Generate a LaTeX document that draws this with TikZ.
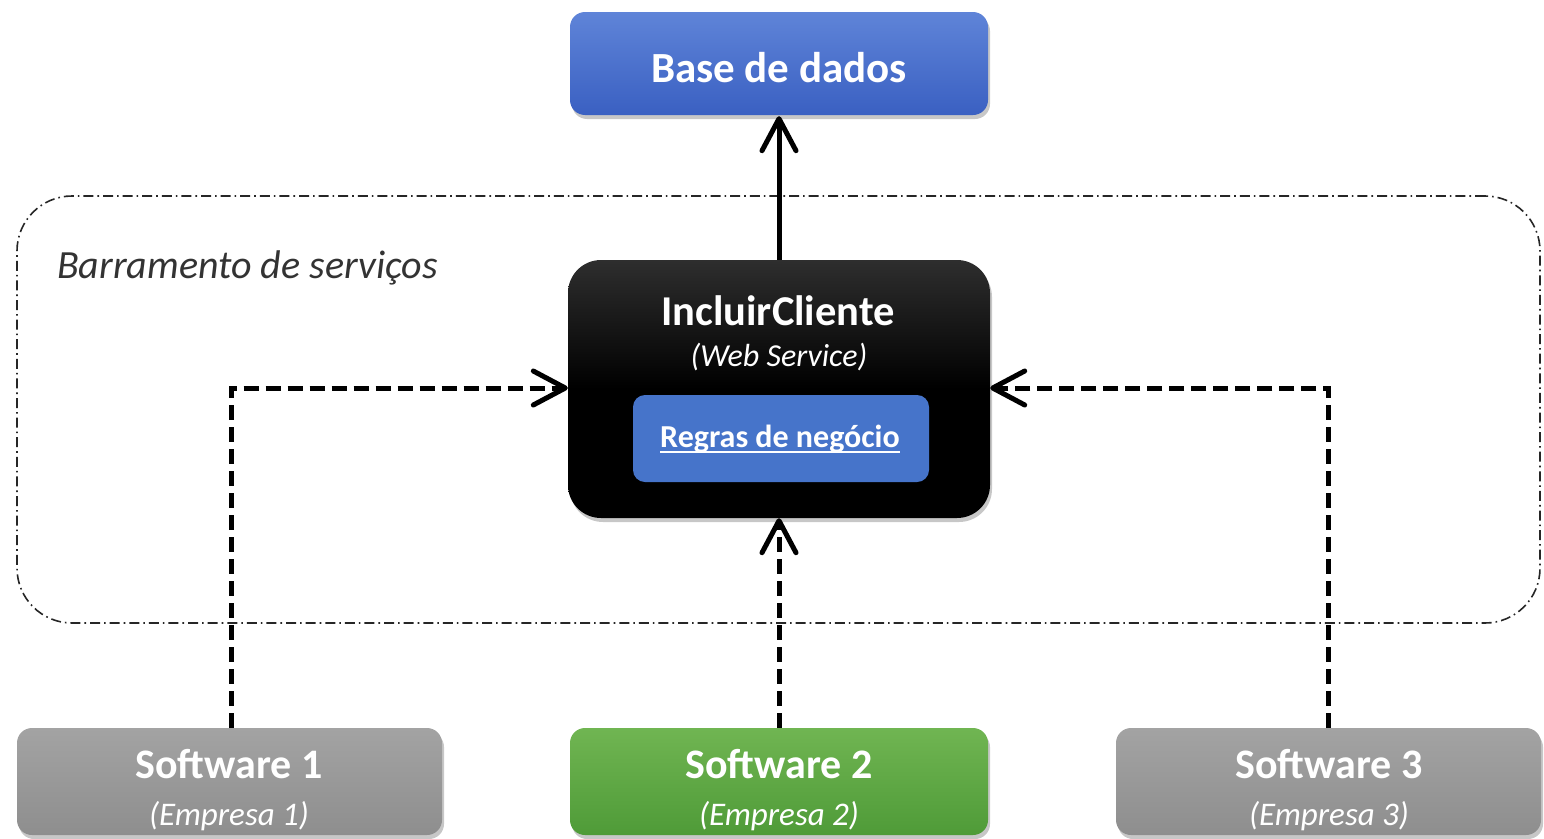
\documentclass[tikz,border=0pt]{standalone}
\usepackage{fontspec}
\setmainfont{Carlito}
\usetikzlibrary{arrows.meta,shadows}
\definecolor{dbtop}{HTML}{5F84D8}
\definecolor{dbbot}{HTML}{3A60C2}
\definecolor{regblue}{HTML}{4674CA}
\definecolor{grtop}{HTML}{A3A3A3}
\definecolor{grbot}{HTML}{8E8E8E}
\definecolor{gntop}{HTML}{70B552}
\definecolor{gnbot}{HTML}{4F9B38}
\definecolor{bustext}{HTML}{333333}
\tikzset{
  boxbase/.style={draw=none, inner sep=0pt, drop shadow={shadow xshift=2pt, shadow yshift=-4pt, opacity=0.22, fill=black}},
  dbbox/.style={boxbase, rounded corners=15pt, top color=dbtop, bottom color=dbbot, minimum width=418pt, minimum height=103pt},
  wsbox/.style={boxbase, rounded corners=33pt, top color=black!82, bottom color=black, middle color=black, minimum width=422pt, minimum height=258pt},
  regbox/.style={draw=none, rounded corners=12pt, fill=regblue, minimum width=296pt, minimum height=87pt},
  swgray/.style={boxbase, rounded corners=15pt, top color=grtop, bottom color=grbot, minimum width=425pt, minimum height=107pt},
  swgreen/.style={boxbase, rounded corners=15pt, top color=gntop, bottom color=gnbot, minimum width=418pt, minimum height=107pt},
  busbox/.style={draw=black!85, line width=1.6pt, rounded corners=55pt, dash pattern=on 10pt off 4pt on 1.6pt off 4pt, minimum width=1523pt, minimum height=427pt, inner sep=0pt},
  txt/.style={inner sep=0pt, anchor=base, text=white},
  solidarrow/.style={line width=5pt, -{Straight Barb[length=32pt,width=34pt,round]}},
  dasharrow/.style={line width=5pt, dash pattern=on 15pt off 7pt, -{Straight Barb[length=32pt,width=34pt,round]}},
}
\begin{document}
\begin{tikzpicture}[x=1pt,y=-1pt]
\useasboundingbox (0,0) rectangle (1544,838);
% bus
\node[busbox] (bus) at (778.5,409.5) {};
\node[inner sep=0pt, anchor=base west, text=bustext] (bustitle) at (57,278) {\fontsize{40}{48}\selectfont\itshape Barramento de serviços};
% boxes
\node[dbbox] (db) at (779,63.5) {};
\node[txt] (dbtext) at (779,82) {\fontsize{43}{50}\selectfont\bfseries Base de dados};
\node[wsbox] (ws) at (779,389) {};
\node[txt] (wstitle) at (778,325) {\fontsize{42.5}{50}\selectfont\bfseries IncluirCliente};
\node[txt] (wssub) at (779,366) {\fontsize{32}{38}\selectfont\itshape (Web Service)};
\node[regbox] (reg) at (781,438.5) {};
\node[txt] (regtext) at (780,447) {\fontsize{32}{38}\selectfont\bfseries Regras de negócio};
\draw[white, line width=2pt] ([yshift=-5pt]regtext.base west) -- ([yshift=-5pt]regtext.base east);
\node[swgray] (s1) at (229.5,781.5) {};
\node[txt] (s1t) at (229,778) {\fontsize{42}{50}\selectfont\bfseries Software 1};
\node[txt] (s1s) at (229,825) {\fontsize{33}{40}\selectfont\itshape (Empresa 1)};
\node[swgreen] (s2) at (779,781.5) {};
\node[txt] (s2t) at (779,778) {\fontsize{42}{50}\selectfont\bfseries Software 2};
\node[txt] (s2s) at (779,825) {\fontsize{33}{40}\selectfont\itshape (Empresa 2)};
\node[swgray] (s3) at (1328.5,781.5) {};
\node[txt] (s3t) at (1329,778) {\fontsize{42}{50}\selectfont\bfseries Software 3};
\node[txt] (s3s) at (1329,825) {\fontsize{33}{40}\selectfont\itshape (Empresa 3)};
% connectors
\draw[solidarrow] (ws.north) -- ([yshift=-1pt]db.south);
\draw[dasharrow] ([xshift=2pt]s1.north) |- ([yshift=1pt]ws.west);
\draw[dasharrow] (s2.north) -- (ws.south);
\draw[dasharrow] (s3.north) |- ([yshift=1pt]ws.east);
\end{tikzpicture}
\end{document}
